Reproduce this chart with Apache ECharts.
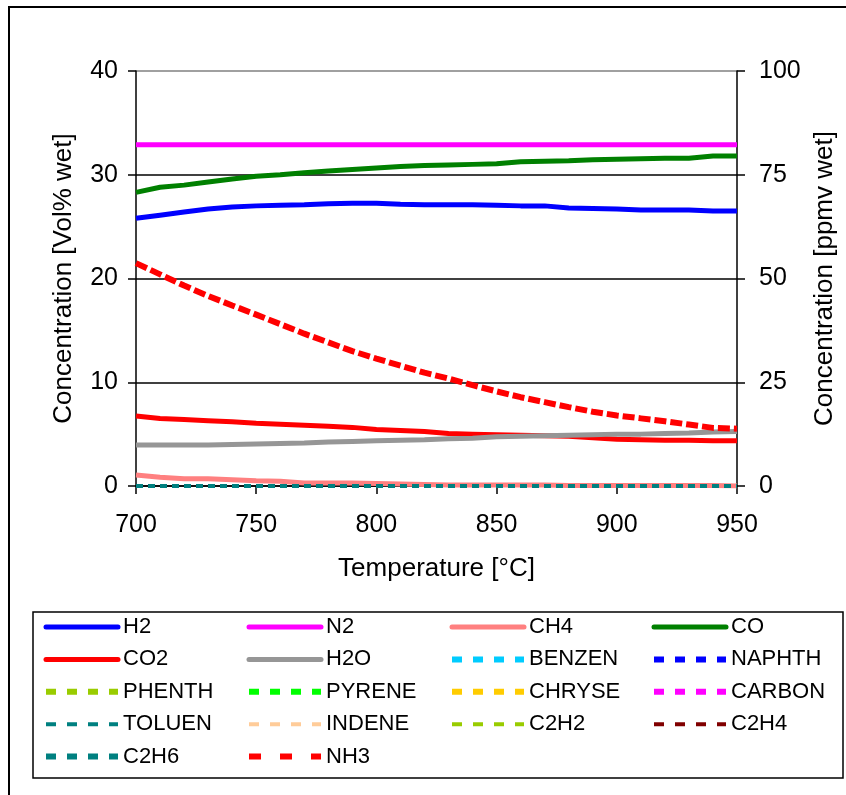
<!DOCTYPE html>
<html>
<head>
<meta charset="utf-8">
<title>Gas composition vs temperature</title>
<script src="https://cdn.jsdelivr.net/npm/echarts@6/dist/echarts.min.js"></script>
<style>
  html, body { margin: 0; padding: 0; background: #ffffff; }
  #chart { width: 846px; height: 795px; }
</style>
</head>
<body>
<div id="chart"></div>
<script>
// Temperature grid [°C]
const temperatures = [700, 710, 720, 730, 740, 750, 760, 770, 780, 790, 800, 810, 820,
  830, 840, 850, 860, 870, 880, 890, 900, 910, 920, 930, 940, 950];

// Main species [Vol% wet], left axis
const h2 = [25.8, 26.1, 26.4, 26.7, 26.9, 27.0, 27.05, 27.1, 27.2, 27.25, 27.25, 27.15, 27.1,
  27.1, 27.1, 27.05, 27.0, 27.0, 26.8, 26.75, 26.7, 26.6, 26.6, 26.6, 26.5, 26.5];
const n2 = [32.9, 32.9, 32.9, 32.9, 32.9, 32.9, 32.9, 32.9, 32.9, 32.9, 32.9, 32.9, 32.9,
  32.9, 32.9, 32.9, 32.9, 32.9, 32.9, 32.9, 32.9, 32.9, 32.9, 32.9, 32.9, 32.9];
const ch4 = [1.05, 0.85, 0.7, 0.7, 0.6, 0.5, 0.45, 0.3, 0.3, 0.3, 0.25, 0.2, 0.15,
  0.1, 0.1, 0.1, 0.1, 0.1, 0.05, 0.05, 0.05, 0.05, 0.05, 0.05, 0.05, 0.0];
const co = [28.3, 28.8, 29.0, 29.3, 29.6, 29.85, 30.0, 30.2, 30.35, 30.5, 30.65, 30.8, 30.9,
  30.95, 31.0, 31.05, 31.25, 31.3, 31.35, 31.45, 31.5, 31.55, 31.6, 31.6, 31.8, 31.8];
const co2 = [6.75, 6.5, 6.4, 6.3, 6.2, 6.05, 5.95, 5.85, 5.75, 5.65, 5.45, 5.35, 5.25,
  5.05, 5.0, 4.95, 4.9, 4.85, 4.8, 4.65, 4.5, 4.45, 4.4, 4.4, 4.35, 4.35];
const h2o = [3.95, 3.95, 3.95, 3.95, 4.0, 4.05, 4.1, 4.15, 4.25, 4.3, 4.35, 4.4, 4.45,
  4.55, 4.6, 4.75, 4.8, 4.85, 4.9, 4.95, 5.0, 5.0, 5.05, 5.1, 5.2, 5.25];

// Tars and minor hydrocarbons [Vol% wet] – all at zero over this range
const benzen = [0, 0, 0, 0, 0, 0, 0, 0, 0, 0, 0, 0, 0, 0, 0, 0, 0, 0, 0, 0, 0, 0, 0, 0, 0, 0];
const naphth = [0, 0, 0, 0, 0, 0, 0, 0, 0, 0, 0, 0, 0, 0, 0, 0, 0, 0, 0, 0, 0, 0, 0, 0, 0, 0];
const phenth = [0, 0, 0, 0, 0, 0, 0, 0, 0, 0, 0, 0, 0, 0, 0, 0, 0, 0, 0, 0, 0, 0, 0, 0, 0, 0];
const pyrene = [0, 0, 0, 0, 0, 0, 0, 0, 0, 0, 0, 0, 0, 0, 0, 0, 0, 0, 0, 0, 0, 0, 0, 0, 0, 0];
const chryse = [0, 0, 0, 0, 0, 0, 0, 0, 0, 0, 0, 0, 0, 0, 0, 0, 0, 0, 0, 0, 0, 0, 0, 0, 0, 0];
const carbon = [0, 0, 0, 0, 0, 0, 0, 0, 0, 0, 0, 0, 0, 0, 0, 0, 0, 0, 0, 0, 0, 0, 0, 0, 0, 0];
const toluen = [0, 0, 0, 0, 0, 0, 0, 0, 0, 0, 0, 0, 0, 0, 0, 0, 0, 0, 0, 0, 0, 0, 0, 0, 0, 0];
const indene = [0, 0, 0, 0, 0, 0, 0, 0, 0, 0, 0, 0, 0, 0, 0, 0, 0, 0, 0, 0, 0, 0, 0, 0, 0, 0];
const c2h2 = [0, 0, 0, 0, 0, 0, 0, 0, 0, 0, 0, 0, 0, 0, 0, 0, 0, 0, 0, 0, 0, 0, 0, 0, 0, 0];
const c2h4 = [0, 0, 0, 0, 0, 0, 0, 0, 0, 0, 0, 0, 0, 0, 0, 0, 0, 0, 0, 0, 0, 0, 0, 0, 0, 0];
const c2h6 = [0, 0, 0, 0, 0, 0, 0, 0, 0, 0, 0, 0, 0, 0, 0, 0, 0, 0, 0, 0, 0, 0, 0, 0, 0, 0];

// Ammonia [ppmv wet], right axis
const nh3 = [53.7, 51.0, 48.3, 45.8, 43.5, 41.3, 39.0, 36.7, 34.6, 32.5, 30.7, 29.0, 27.3,
  25.9, 24.3, 22.8, 21.4, 20.2, 19.0, 17.9, 17.0, 16.3, 15.6, 14.8, 14.0, 13.8];

// Axis ticks
const xTicks = [700, 750, 800, 850, 900, 950];
const leftTicks = [0, 10, 20, 30, 40];
const rightTicks = [0, 25, 50, 75, 100];

const FONT = '"Liberation Sans", Arial, sans-serif';

// Plot line styles; the zero-level series share one dash phase so the
// C2H6 line drawn last covers them
const SOLID = { w: 5, dash: 'solid' };
const ZERO_DASH = [7, 5];
const SQDOT = { w: 4, dash: ZERO_DASH };
const DASH = { w: 3, dash: ZERO_DASH };
const C2H6_STYLE = { w: 4, dash: ZERO_DASH };
const LONGDASH = { w: 6, dash: [12, 4] };

const seriesDefs = [
  { name: 'H2', data: h2, color: '#0000FF', st: SOLID, axis: 0 },
  { name: 'N2', data: n2, color: '#FF00FF', st: SOLID, axis: 0 },
  { name: 'CH4', data: ch4, color: '#FF8080', st: SOLID, axis: 0 },
  { name: 'CO', data: co, color: '#008000', st: SOLID, axis: 0 },
  { name: 'CO2', data: co2, color: '#FF0000', st: SOLID, axis: 0 },
  { name: 'H2O', data: h2o, color: '#969696', st: SOLID, axis: 0 },
  { name: 'BENZEN', data: benzen, color: '#00CCFF', st: SQDOT, axis: 0 },
  { name: 'NAPHTH', data: naphth, color: '#0000FF', st: SQDOT, axis: 0 },
  { name: 'PHENTH', data: phenth, color: '#99CC00', st: SQDOT, axis: 0 },
  { name: 'PYRENE', data: pyrene, color: '#00FF00', st: SQDOT, axis: 0 },
  { name: 'CHRYSE', data: chryse, color: '#FFCC00', st: SQDOT, axis: 0 },
  { name: 'CARBON', data: carbon, color: '#FF00FF', st: SQDOT, axis: 0 },
  { name: 'TOLUEN', data: toluen, color: '#008080', st: DASH, axis: 0 },
  { name: 'INDENE', data: indene, color: '#FFCC99', st: DASH, axis: 0 },
  { name: 'C2H2', data: c2h2, color: '#99CC00', st: DASH, axis: 0 },
  { name: 'C2H4', data: c2h4, color: '#800000', st: DASH, axis: 0 },
  { name: 'C2H6', data: c2h6, color: '#008080', st: C2H6_STYLE, axis: 0 },
  { name: 'NH3', data: nh3, color: '#FF0000', st: LONGDASH, axis: 1 }
];

// Legend appearance per line kind (icon 72 px wide)
const legendLineStyle = {
  solid: { width: 5, type: 'solid', cap: 'round' },
  sqdot: { width: 6, type: [10, 11] },
  dash: { width: 4, type: [10, 11] },
  c2h6: { width: 6, type: [10, 11] },
  longdash: { width: 6, type: [12, 19] }
};
function legendKind(st) {
  if (st === SOLID) return 'solid';
  if (st === SQDOT) return 'sqdot';
  if (st === DASH) return 'dash';
  if (st === C2H6_STYLE) return 'c2h6';
  return 'longdash';
}

const series = seriesDefs.map(d => ({
  name: d.name,
  type: 'line',
  yAxisIndex: d.axis,
  data: temperatures.map((t, i) => [t, d.data[i]]),
  showSymbol: false,
  symbol: 'none',
  color: d.color,
  lineStyle: { color: d.color, width: d.st.w, type: d.st.dash, cap: 'butt' },
  animation: false,
  silent: true
}));

// Four legend columns, filled row by row
const legendCols = [
  { left: 43, names: ['H2', 'CO2', 'PHENTH', 'TOLUEN', 'C2H6'] },
  { left: 246, names: ['N2', 'H2O', 'PYRENE', 'INDENE', 'NH3'] },
  { left: 449, names: ['CH4', 'BENZEN', 'CHRYSE', 'C2H2'] },
  { left: 651, names: ['CO', 'NAPHTH', 'CARBON', 'C2H4'] }
];
const legends = legendCols.map(col => ({
  orient: 'vertical',
  left: col.left,
  top: 616,
  padding: 0,
  itemWidth: 72,
  itemHeight: 22,
  itemGap: 10.4,
  selectedMode: false,
  textStyle: { fontFamily: FONT, fontSize: 22, color: '#000', lineHeight: 22 },
  data: col.names.map(n => {
    const d = seriesDefs.find(s => s.name === n);
    const ls = legendLineStyle[legendKind(d.st)];
    return {
      name: n,
      itemStyle: { color: d.color, opacity: 0 },
      lineStyle: { color: d.color, width: ls.width, type: ls.type, cap: ls.cap || 'butt' }
    };
  })
}));

const axisLabelStyle = { fontFamily: FONT, fontSize: 25, color: '#000' };
const axisNameStyle = { fontFamily: FONT, fontSize: 26, color: '#000' };

const option = {
  backgroundColor: '#ffffff',
  animation: false,
  graphic: [
    { type: 'rect', shape: { x: 9, y: 7, width: 850, height: 800 },
      style: { fill: null, stroke: '#000', lineWidth: 2 }, z: 0, silent: true },
    { type: 'rect', shape: { x: 33, y: 612, width: 810, height: 166 },
      style: { fill: '#fff', stroke: '#000', lineWidth: 1.5 }, z: 0, silent: true }
  ],
  grid: { left: 136, right: 109, top: 71, bottom: 309, show: false },
  legend: legends,
  xAxis: {
    type: 'value',
    min: xTicks[0],
    max: xTicks[xTicks.length - 1],
    interval: xTicks[1] - xTicks[0],
    name: 'Temperature [°C]',
    nameLocation: 'middle',
    nameGap: 70,
    nameTextStyle: axisNameStyle,
    axisLine: { show: true, onZero: false, lineStyle: { color: '#000', width: 1.5 } },
    axisTick: { show: true, length: 8, lineStyle: { color: '#000', width: 1.5 } },
    axisLabel: { margin: 27, ...axisLabelStyle },
    splitLine: { show: false }
  },
  yAxis: [
    {
      type: 'value',
      position: 'left',
      min: leftTicks[0],
      max: leftTicks[leftTicks.length - 1],
      interval: leftTicks[1] - leftTicks[0],
      name: 'Concentration [Vol% wet]',
      nameLocation: 'middle',
      nameGap: 59,
      nameTextStyle: axisNameStyle,
      axisLine: { show: true, lineStyle: { color: '#000', width: 1.5 } },
      axisTick: { show: true, length: 8, lineStyle: { color: '#000', width: 1.5 } },
      axisLabel: { margin: 18, ...axisLabelStyle },
      splitLine: { show: true, lineStyle: { color: ['#000', '#000', '#000', '#000', '#808080'], width: 1.5 } }
    },
    {
      type: 'value',
      position: 'right',
      min: rightTicks[0],
      max: rightTicks[rightTicks.length - 1],
      interval: rightTicks[1] - rightTicks[0],
      name: 'Concentration [ppmv wet]',
      nameLocation: 'middle',
      nameGap: 73,
      nameTextStyle: axisNameStyle,
      axisLine: { show: true, lineStyle: { color: '#000', width: 1.5 } },
      axisTick: { show: true, length: 8, lineStyle: { color: '#000', width: 1.5 } },
      axisLabel: { margin: 22, ...axisLabelStyle },
      splitLine: { show: false }
    }
  ],
  series: series
};

const chart = echarts.init(document.getElementById('chart'), null, { renderer: 'canvas' });
chart.setOption(option);
</script>
</body>
</html>
